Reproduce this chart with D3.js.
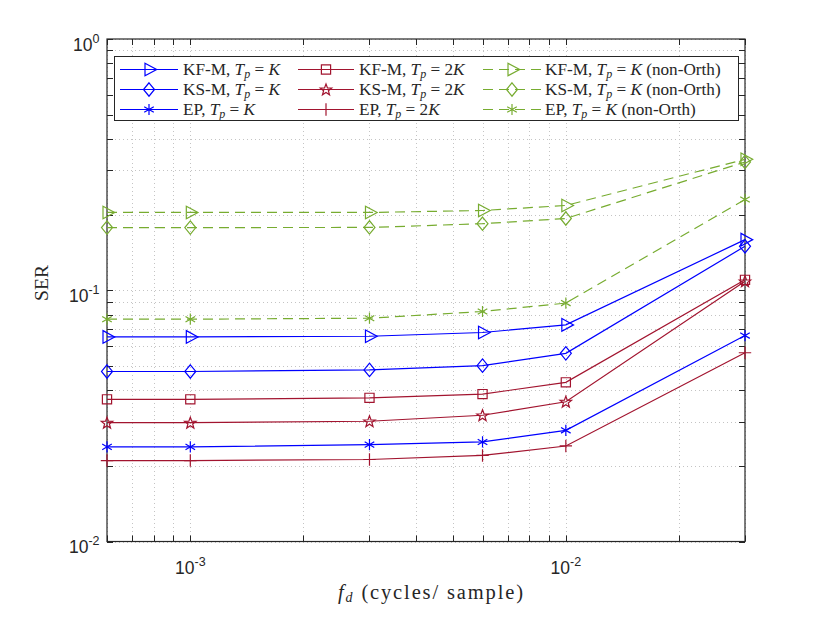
<!DOCTYPE html>
<html>
<head>
<meta charset="utf-8">
<script src="https://cdn.jsdelivr.net/npm/d3@7"></script>
<style>
  body { margin: 0; background: #fff; }
  svg { display: block; }
  .tick-label { font-family: "Liberation Sans", Arial, sans-serif; font-size: 17.5px; fill: #262626; }
  .tex { font-family: "Liberation Serif", "DejaVu Serif", serif; fill: #262626; }
</style>
</head>
<body>
<script>
// x values (Doppler, cycles/sample)
var fd = [6e-4, 1e-3, 3e-3, 6e-3, 1e-2, 3e-2];

// SER series
var kfmK    = [0.0652, 0.0652, 0.0656, 0.0679, 0.0728, 0.159];
var ksmK    = [0.0475, 0.0475, 0.0482, 0.0501, 0.0561, 0.1496];
var epK     = [0.0238, 0.0238, 0.0243, 0.0249, 0.0277, 0.066];
var kfm2K   = [0.0368, 0.0368, 0.0373, 0.0386, 0.0430, 0.110];
var ksm2K   = [0.0297, 0.0297, 0.0301, 0.0318, 0.0360, 0.1085];
var ep2K    = [0.0210, 0.0210, 0.0212, 0.0220, 0.0240, 0.0564];
var kfmNO   = [0.204, 0.204, 0.204, 0.2077, 0.2175, 0.332];
var ksmNO   = [0.1776, 0.1776, 0.1778, 0.184, 0.193, 0.324];
var epNO    = [0.0767, 0.0767, 0.0774, 0.0823, 0.0889, 0.2298];

var xMajor = [1e-3, 1e-2];
var yMajor = [1e-2, 1e-1, 1];

var blue = "#0000ff", red = "#a2142f", green = "#77ac30";

var series = [
  {name: "KF-M", tp: "K",  extra: "", values: kfmK,  color: blue,  marker: "triangle", dash: null},
  {name: "KS-M", tp: "K",  extra: "", values: ksmK,  color: blue,  marker: "diamond",  dash: null},
  {name: "EP",   tp: "K",  extra: "", values: epK,   color: blue,  marker: "asterisk", dash: null},
  {name: "KF-M", tp: "2K", extra: "", values: kfm2K, color: red,   marker: "square",   dash: null},
  {name: "KS-M", tp: "2K", extra: "", values: ksm2K, color: red,   marker: "pentagram",dash: null},
  {name: "EP",   tp: "2K", extra: "", values: ep2K,  color: red,   marker: "plus",     dash: null},
  {name: "KF-M", tp: "K",  extra: " (non-Orth)", values: kfmNO, color: green, marker: "triangle", dash: "10,6"},
  {name: "KS-M", tp: "K",  extra: " (non-Orth)", values: ksmNO, color: green, marker: "diamond",  dash: "10,6"},
  {name: "EP",   tp: "K",  extra: " (non-Orth)", values: epNO,  color: green, marker: "asterisk", dash: "10,6"}
];

var W = 822, H = 617;
var L = 107, R = 745, T = 39, B = 541.5;

var svg = d3.select("body").append("svg").attr("width", W).attr("height", H);

var x = d3.scaleLog().domain([6e-4, 3e-2]).range([L, R]);
var y = d3.scaleLog().domain([1e-2, 1]).range([B, T]);

// minor positions
function minors(lo, hi) {
  var out = [];
  for (var e = Math.floor(Math.log10(lo)); e <= Math.ceil(Math.log10(hi)); e++) {
    for (var k = 1; k <= 9; k++) {
      var v = k * Math.pow(10, e);
      if (v >= lo * 0.9999 && v <= hi * 1.0001) out.push(v);
    }
  }
  return out;
}
var xAll = minors(6e-4, 3e-2);
var yAll = minors(1e-2, 1);

// grid
var grid = svg.append("g").attr("stroke", "#c4c4c4").attr("stroke-width", 1).attr("stroke-dasharray", "1,3");
grid.selectAll(".gx").data(xAll).enter().append("line")
  .attr("x1", d => Math.round(x(d)) + 0.5).attr("x2", d => Math.round(x(d)) + 0.5)
  .attr("y1", T).attr("y2", B);
grid.selectAll(".gy").data(yAll).enter().append("line")
  .attr("y1", d => Math.round(y(d)) + 0.5).attr("y2", d => Math.round(y(d)) + 0.5)
  .attr("x1", L).attr("x2", R);

// ticks inward on all sides
var tk = svg.append("g").attr("stroke", "#262626").attr("stroke-width", 1);
var tl = 6;
xAll.forEach(function(d) {
  var px = Math.round(x(d)) + 0.5;
  tk.append("line").attr("x1", px).attr("x2", px).attr("y1", B).attr("y2", B - tl);
  tk.append("line").attr("x1", px).attr("x2", px).attr("y1", T).attr("y2", T + tl);
});
yAll.forEach(function(d) {
  var py = Math.round(y(d)) + 0.5;
  tk.append("line").attr("y1", py).attr("y2", py).attr("x1", L).attr("x2", L + tl);
  tk.append("line").attr("y1", py).attr("y2", py).attr("x1", R).attr("x2", R - tl);
});

// box
svg.append("rect").attr("x", L).attr("y", T).attr("width", R - L).attr("height", B - T)
  .attr("fill", "none").attr("stroke", "#262626").attr("stroke-width", 1.2);

// tick labels
xMajor.forEach(function(d) {
  var t = svg.append("text").attr("class", "tick-label").attr("x", x(d)).attr("y", 573.5)
    .attr("text-anchor", "middle");
  t.append("tspan").text("10");
  t.append("tspan").attr("dy", -8).attr("font-size", 12.5).text(Math.round(Math.log10(d)));
});
yMajor.forEach(function(d) {
  var e = Math.round(Math.log10(d));
  var t = svg.append("text").attr("class", "tick-label").attr("x", 99.5).attr("y", y(d) + 11.5)
    .attr("text-anchor", "end");
  t.append("tspan").text("10");
  t.append("tspan").attr("dy", -8).attr("font-size", 12.5).text(e);
});

// axis titles
var xl = svg.append("text").attr("class", "tex").attr("x", 338).attr("y", 598.5)
  .attr("font-size", 20.5).attr("textLength", 185).attr("lengthAdjust", "spacing");
xl.append("tspan").attr("font-style", "italic").text("f");
xl.append("tspan").attr("font-style", "italic").attr("font-size", 14).attr("dy", 3.5).text("d");
xl.append("tspan").attr("dy", -3.5).text(" (cycles/ sample)");

svg.append("text").attr("class", "tex").attr("font-size", 19.5)
  .attr("transform", "translate(47.5,283) rotate(-90)").attr("text-anchor", "middle").text("SER");

// marker drawing
function drawMarker(g, type, cx, cy, color) {
  var m = g.append("path").attr("fill", "none").attr("stroke", color).attr("stroke-width", 1.2)
    .attr("transform", "translate(" + cx + "," + cy + ")");
  var d;
  if (type === "triangle") d = "M-4,-6.3L7.7,0L-4,6.3Z";
  else if (type === "diamond") d = "M0,-6.7L5.5,0L0,6.7L-5.5,0Z";
  else if (type === "square") d = "M-4.6,-4.6H4.6V4.6H-4.6Z";
  else if (type === "plus") d = "M0,-6.2V6.2M-6.2,0H6.2";
  else if (type === "asterisk") d = "M0,-5.6V5.6M-4.8,-2.8L4.8,2.8M-4.8,2.8L4.8,-2.8";
  else if (type === "pentagram") {
    var pts = [];
    for (var i = 0; i < 10; i++) {
      var r = i % 2 === 0 ? 6 : 2.5;
      var a = -Math.PI / 2 + i * Math.PI / 5;
      pts.push([r * Math.cos(a), r * Math.sin(a) + 0.5]);
    }
    d = "M" + pts.map(p => p[0].toFixed(2) + "," + p[1].toFixed(2)).join("L") + "Z";
  }
  m.attr("d", d);
}

// series
var line = d3.line().x((d, i) => x(fd[i])).y(d => y(d));
var plot = svg.append("g");
series.forEach(function(s) {
  plot.append("path").datum(s.values).attr("d", line)
    .attr("fill", "none").attr("stroke", s.color).attr("stroke-width", 1.2)
    .attr("stroke-dasharray", s.dash);
  s.values.forEach(function(v, i) { drawMarker(plot, s.marker, x(fd[i]), y(v), s.color); });
});

// legend
var leg = svg.append("g");
leg.append("rect").attr("x", 114.5).attr("y", 56.5).attr("width", 624).attr("height", 64)
  .attr("fill", "#fff").attr("stroke", "#262626").attr("stroke-width", 1);
var cols = [{x1: 120, x2: 178, tx: 183}, {x1: 298, x2: 354, tx: 359}, {x1: 483, x2: 541, tx: 545}];
var rows = [69.5, 89.5, 109.5];
series.forEach(function(s, i) {
  var c = cols[Math.floor(i / 3)], ry = rows[i % 3];
  leg.append("line").attr("x1", c.x1).attr("x2", c.x2).attr("y1", ry).attr("y2", ry)
    .attr("stroke", s.color).attr("stroke-width", 1.2).attr("stroke-dasharray", s.dash);
  drawMarker(leg, s.marker, (c.x1 + c.x2) / 2, ry, s.color);
  var t = leg.append("text").attr("class", "tex").attr("x", c.tx).attr("y", ry + 5.7).attr("font-size", 17.2);
  t.append("tspan").text(s.name + ", ");
  t.append("tspan").attr("font-style", "italic").text("T");
  t.append("tspan").attr("font-style", "italic").attr("font-size", 12).attr("dy", 3).text("p");
  t.append("tspan").attr("dy", -3).text(" = ");
  if (s.tp === "2K") t.append("tspan").text("2");
  t.append("tspan").attr("font-style", "italic").text("K");
  if (s.extra) t.append("tspan").text(s.extra);
});
</script>
</body>
</html>
